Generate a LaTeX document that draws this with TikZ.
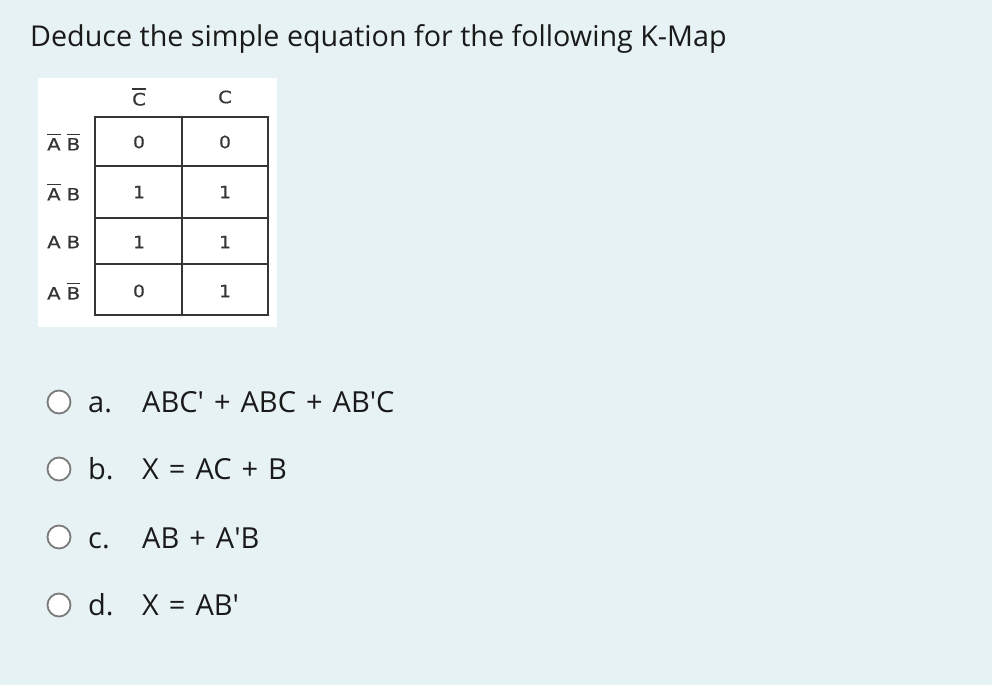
\documentclass[tikz,border=0pt]{standalone}
\usepackage{fontspec}
\setmainfont{Open Sans}
\newfontfamily\kfont[FakeBold=0.6]{DejaVu Sans}
\definecolor{bg}{HTML}{E7F2F5}
\definecolor{txt}{HTML}{1A1A1A}
\definecolor{kgray}{HTML}{353535}
\definecolor{radio}{HTML}{7A7A7A}
\newcommand\ovr[1]{\setbox0\hbox{#1}\rlap{\raisebox{\dimexpr\ht0+3pt\relax}{\rule{\wd0}{1.5pt}}}\box0\relax}
\newcommand\ap{\textquotesingle}
\newcommand\optfont{\fontsize{29}{33}\selectfont\spaceskip=10pt\relax}
\newcommand\kmfont{\kfont\fontsize{17}{19}\selectfont}
\begin{document}
\begin{tikzpicture}[x=1pt,y=-1pt,
  title/.style={anchor=base west,inner sep=0,text=txt,font=\fontsize{28.7}{32}\selectfont},
  opt/.style={anchor=base west,inner sep=0,text=txt,font=\optfont},
  kcell/.style={text=kgray,font=\kmfont,inner sep=0,xscale=1.1},
  klab/.style={text=kgray,font=\kmfont,inner sep=0,xscale=1.15},
  radiob/.style={circle,draw=radio,line width=1.8pt,fill=white,minimum size=23pt,inner sep=0}]
\fill[bg] (0,0) rectangle (992,685);
\useasboundingbox (0,0) rectangle (992,685);
\node[title] (t) at (30,47) {Deduce the simple equation for the following K-Map};
% K-map
\fill[white] (38,78) rectangle (277,327);
\draw[kgray,line width=1.6pt] (95,117) rectangle (268,315);
\draw[kgray,line width=1.6pt] (182,117) -- (182,315);
\foreach \y in {166,218,264} \draw[kgray,line width=1.6pt] (95,\y) -- (268,\y);
\node[klab] (hc0) at (139,97) {\ovr{C}};
\node[klab] (hc1) at (225,97) {C};
\node[klab,anchor=west] (r0) at (47,142) {\ovr{A} \ovr{B}};
\node[klab,anchor=west] (r1) at (47,192) {\ovr{A} B};
\node[klab,anchor=west] (r2) at (47,242) {A B};
\node[klab,anchor=west] (r3) at (47,291) {A \ovr{B}};
\node[kcell] (c00) at (139,142) {0};
\node[kcell] (c01) at (225,142) {0};
\node[kcell] (c10) at (139,192) {1};
\node[kcell] (c11) at (225,192) {1};
\node[kcell] (c20) at (139,242) {1};
\node[kcell] (c21) at (225,242) {1};
\node[kcell] (c30) at (139,291) {0};
\node[kcell] (c31) at (225,291) {1};
% options
\node[radiob] (ra) at (59,402) {};
\node[radiob] (rb) at (59,469) {};
\node[radiob] (rc) at (59,537) {};
\node[radiob] (rd) at (59,605) {};
\node[opt] (la) at (88,412) {a.};
\node[opt] (lb) at (88,479) {b.};
\node[opt] (lc) at (88,548) {c.};
\node[opt] (ld) at (88,615) {d.};
\node[opt] (ta) at (142,412) {ABC\ap{} + ABC + AB\ap C};
\node[opt] (tb) at (142,479) {X = AC + B};
\node[opt] (tc) at (142,548) {AB + A\ap B};
\node[opt] (td) at (142,615) {X = AB\ap};
\end{tikzpicture}
\end{document}
